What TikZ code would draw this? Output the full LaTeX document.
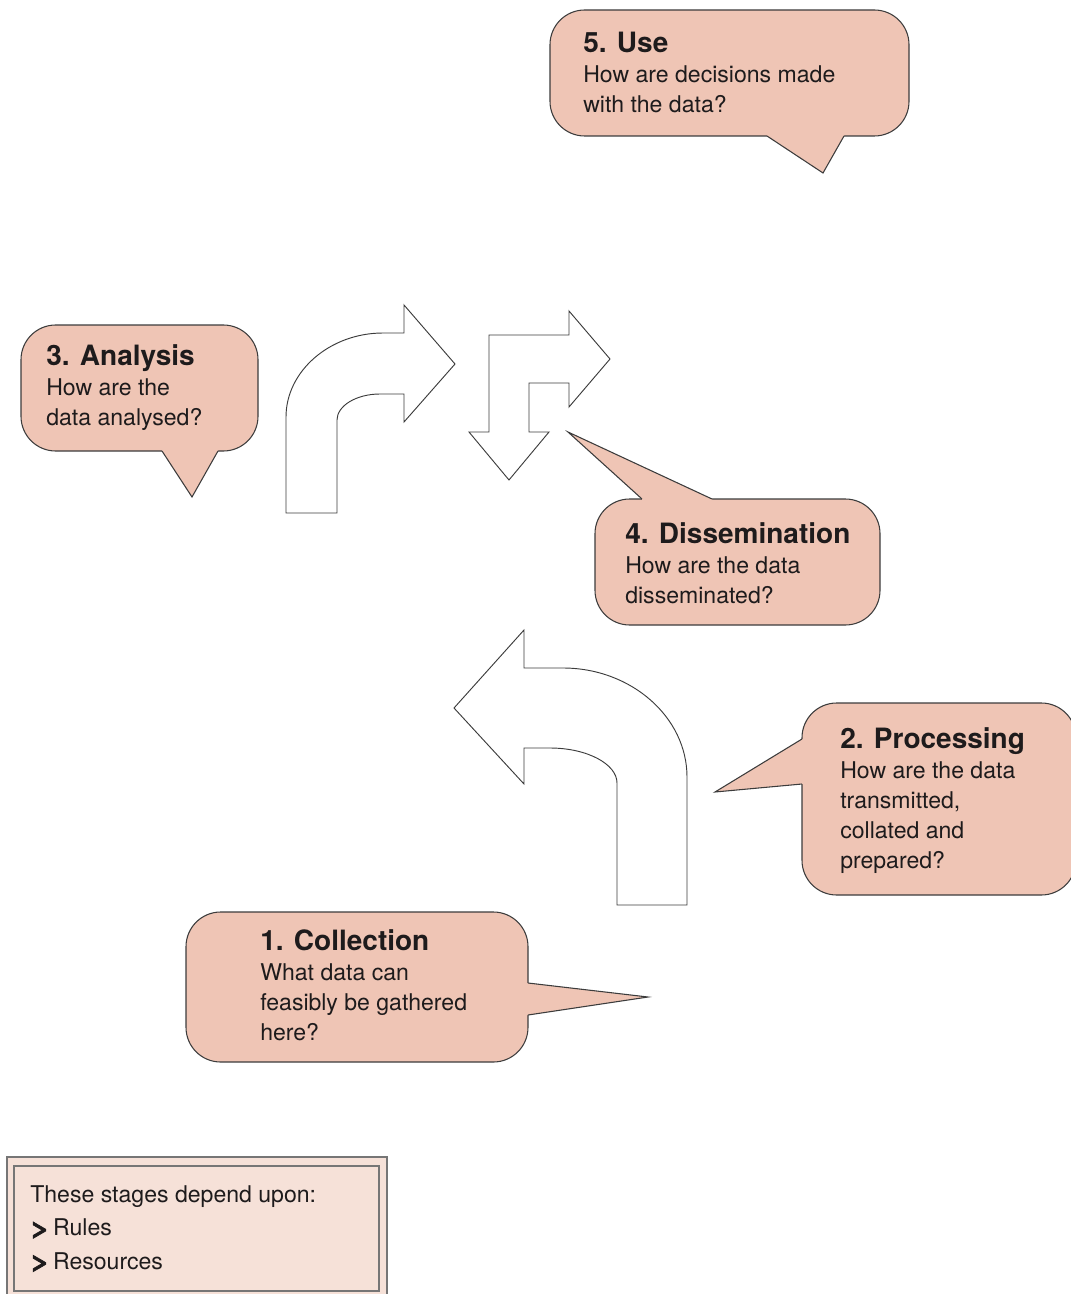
\documentclass[tikz,border=0pt]{standalone}
\usepackage{fontspec}
\usepackage{graphicx}
\setmainfont{TeX Gyre Heros}
\usetikzlibrary{fit}

\definecolor{calloutPink}{HTML}{EFC5B5}
\definecolor{notePink}{HTML}{F6E1D8}
\definecolor{edgeGrey}{HTML}{3C3C3C}
\definecolor{inkBlack}{HTML}{1E1B1C}

\tikzset{%
  % Specifications for style of nodes:
         base/.style = {draw=edgeGrey, line width=0.8pt, inner sep=0pt},
      callout/.style = {base, rectangle, rounded corners=26pt,
                        fill=calloutPink},
         note/.style = {base, rectangle, draw=edgeGrey!70, fill=notePink},
        stage/.style = {anchor=west, inner sep=0pt, align=left,
                        text=inkBlack,
                        font={\fontsize{17.3}{22.5}\selectfont}},
     noteText/.style = {stage, font={\fontsize{17.3}{25}\selectfont}},
  % tails of the callouts and the turning arrows
     tailFill/.style = {fill=calloutPink},
     tailEdge/.style = {draw=edgeGrey, line width=0.8pt},
         turn/.style = {draw=edgeGrey, line width=0.7pt, fill=white},
}
\newcommand{\stagetitle}[1]{{\fontsize{21}{22.5}\selectfont\bfseries #1}}
\newcommand{\chevron}{\scalebox{1.45}[1]{\bfseries\addfontfeatures{FakeBold=2.5}>}\hspace{2.5pt}}

\begin{document}
\begin{tikzpicture}[x=0.75pt, y=-0.75pt]
\useasboundingbox (0,0) rectangle (1070,1294);

% turning arrows
\draw[turn] (286,513) -- (286,417) .. controls (286,371) and (330,333) .. (383,333)
   -- (404,333) -- (404,305) -- (455,364) -- (404,422) -- (404,394) -- (380,394)
   .. controls (356,394) and (337,406) .. (337,420) -- (337,513) -- cycle;

\draw[turn] (489,335) -- (569,335) -- (569,311) -- (610,359) -- (569,407)
   -- (569,383) -- (529,383) -- (529,432) -- (549,432) -- (509,480)
   -- (469,432) -- (489,432) -- cycle;

\draw[turn] (617,905) -- (687,905) -- (687,777) .. controls (687,717) and (631,668) .. (563,668)
   -- (524,668) -- (524,630) -- (454,708) -- (524,784) -- (524,748) -- (550,748)
   .. controls (587,748) and (617,764) .. (617,783) -- cycle;

% 5. Use
\node (use) [callout, fit={(550,10) (909,136)}] {};
\coordinate (useTip) at (823,173);
\fill[tailFill] (767,130) -- (767,136) -- (useTip) -- (844,136) -- (844,130) -- cycle;
\draw[tailEdge] (767,136) -- (useTip) -- (844,136);
\node (useText) [stage] at (583,72)
   {\stagetitle{5. Use}\\How are decisions made\\with the data?};

% 3. Analysis
\node (analysis) [callout, fit={(21,325) (258,451)}] {};
\coordinate (analysisTip) at (192,497);
\fill[tailFill] (162,445) -- (162,451) -- (analysisTip) -- (218,451) -- (218,445) -- cycle;
\draw[tailEdge] (162,451) -- (analysisTip) -- (218,451);
\node (analysisText) [stage] at (46,387.5)
   {\stagetitle{3. Analysis}\\How are the\\data analysed?};

% 4. Dissemination
\node (dissemination) [callout, fit={(595,499) (880,625)}] {};
\coordinate (disseminationTip) at (568,432);
\fill[tailFill] (642,505) -- (642,499) -- (disseminationTip) -- (712,499) -- (712,505) -- cycle;
\draw[tailEdge] (642,499) -- (disseminationTip) -- (712,499);
\node (disseminationText) [stage] at (625,563)
   {\stagetitle{4. Dissemination}\\How are the data\\disseminated?};

% 2. Processing
\node (processing) [callout, fit={(802,703) (1076,895)}] {};
\coordinate (processingTip) at (715,792);
\fill[tailFill] (808,739) -- (802,739) -- (processingTip) -- (802,784) -- (808,784) -- cycle;
\draw[tailEdge] (802,739) -- (processingTip) -- (802,784);
\node (processingText) [stage] at (840,801)
   {\stagetitle{2. Processing}\\How are the data\\transmitted,\\collated and\\prepared?};

% 1. Collection
\node (collection) [callout, fit={(186,912) (528,1062)}] {};
\coordinate (collectionTip) at (648,997);
\fill[tailFill] (522,983) -- (528,983) -- (collectionTip) -- (528,1015) -- (522,1015) -- cycle;
\draw[tailEdge] (528,983) -- (collectionTip) -- (528,1015);
\node (collectionText) [stage] at (260,985.5)
   {\stagetitle{1. Collection}\\What data can\\feasibly be gathered\\here?};

% depends box
\node (noteOuter) [note, fit={(7,1157) (387,1302)}] {};
\node (noteInner) [note, fit={(14,1166) (379,1291)}] {};
\node (noteText) [noteText] at (30,1228.7)
   {These stages depend upon:\\\chevron Rules\\\chevron Resources};
\end{tikzpicture}
\end{document}
